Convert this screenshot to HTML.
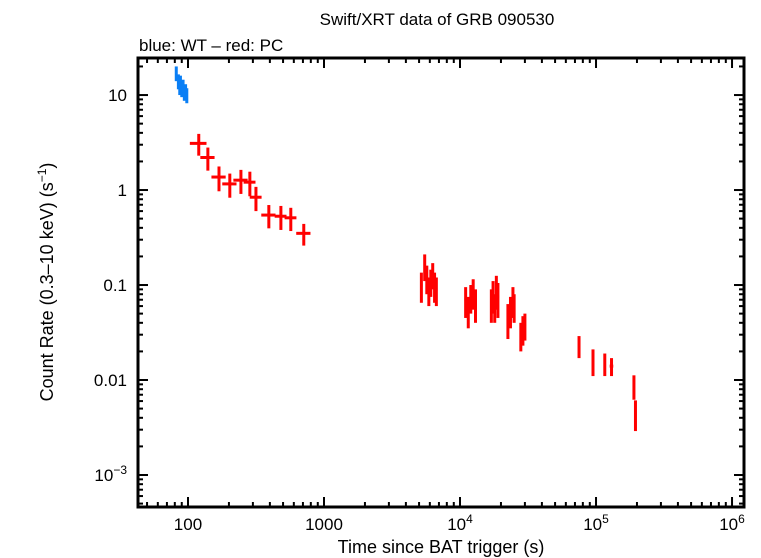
<!DOCTYPE html>
<html><head><meta charset="utf-8"><style>
body{margin:0;background:#fff;}
svg{display:block;font-family:"Liberation Sans",sans-serif;}
</style></head><body>
<svg id="c" width="761" height="558"></svg>
<script>
const wtT=[82,85,87,88,90,92,94,96,98];
const wtR=[17,14,12,13.5,11.5,12.5,10.5,11,10];
const wtE=[3,2.5,2,2.5,2,2,1.8,2,1.8];
const pcT=[120,140,169,203,245,285,316,393,482,570,710,
5200,5500,5700,5900,6100,6300,6500,6700,
11000,11500,12000,12500,13000,
17000,17500,18000,18500,19000,
22500,23500,24500,25000,
28000,29000,30000,
75000,95000,116000,130000,190000,195000];
const pcR=[3.1,2.2,1.37,1.16,1.27,1.21,0.84,0.545,0.53,0.51,0.35,
0.10,0.16,0.12,0.09,0.11,0.13,0.10,0.09,
0.07,0.055,0.075,0.085,0.065,
0.065,0.08,0.06,0.09,0.075,
0.045,0.055,0.07,0.06,
0.03,0.035,0.038,
0.023,0.016,0.015,0.014,0.0087,0.0045];
const pcE=[0.8,0.6,0.4,0.33,0.36,0.35,0.24,0.15,0.15,0.14,0.09,
0.035,0.05,0.04,0.03,0.035,0.04,0.035,0.03,
0.025,0.02,0.025,0.03,0.025,
0.025,0.03,0.02,0.035,0.03,
0.018,0.02,0.025,0.02,
0.01,0.012,0.012,
0.006,0.005,0.004,0.003,0.0025,0.0016];
const pcXF=[0.14,0.12,0.12,0.12,0.12,0.1,0.1,0.12,0.1,0.1,0.12,
0.02,0.02,0.02,0.02,0.02,0.02,0.02,0.02,
0.02,0.02,0.02,0.02,0.02,
0.02,0.02,0.02,0.02,0.02,
0.02,0.02,0.02,0.02,
0.02,0.02,0.02,
0.01,0.01,0.01,0.03,0.01,0.01];
const wtXF=[0.02,0.02,0.02,0.03,0.02,0.02,0.03,0.02,0.02];
const xTickLabels=["100","1000","10^4","10^5","10^6"];
const yTickLabels=["10","1","0.1","0.01","10^-3"];

const L=138,R=744,T=58,B=507;
const x0=Math.log10(42.9),x1=6.088,y0=-3.337,y1=1.39;
const X=v=>L+(Math.log10(v)-x0)/(x1-x0)*(R-L);
const Y=v=>B-(Math.log10(v)-y0)/(y1-y0)*(B-T);
const svg=document.getElementById('c');
const NS='http://www.w3.org/2000/svg';
function mk(tag,attrs,parent){const e=document.createElementNS(NS,tag);for(const k in attrs)e.setAttribute(k,attrs[k]);(parent||svg).appendChild(e);return e;}
function line(x1_,y1_,x2_,y2_,col,w,p){return mk('line',{x1:x1_,y1:y1_,x2:x2_,y2:y2_,stroke:col,'stroke-width':w},p);}
function label(txt,x,y,anchor,p){
  const t=mk('text',{x:x,y:y,'text-anchor':anchor,'font-size':17,fill:'#000'},p);
  const m=txt.match(/^10\^(.+)$/);
  if(m){t.textContent='10';const s=mk('tspan',{dy:-7,'font-size':12},t);s.textContent=m[1].replace('-','\u2212');}
  else t.textContent=txt;
  return t;
}
const axes=mk('g',{});


for(let d=1;d<=6;d++){for(let k=1;k<10;k++){const v=k*Math.pow(10,d);const px=X(v);if(px<L||px>R)continue;const len=k==1?10:5;
line(px,B,px,B-len,'#000',2,axes);line(px,T,px,T+len,'#000',2,axes);}}
for(let d=-4;d<=1;d++){for(let k=1;k<10;k++){const v=k*Math.pow(10,d);const py=Y(v);if(py<T||py>B)continue;const len=k==1?10:5;
line(L,py,L+len,py,'#000',2,axes);line(R,py,R-len,py,'#000',2,axes);}}
mk('rect',{x:L,y:T,width:R-L,height:B-T,fill:'none',stroke:'#000','stroke-width':3},axes);
const xl=mk('g',{});


xTickLabels.forEach((s,i)=>label(s,X(Math.pow(10,i+2)),530,'middle',xl));
const yl=mk('g',{});


yTickLabels.forEach((s,i)=>label(s,127,Y(Math.pow(10,1-i))+6,'end',yl));
function series(ts,rs,es,xf,col,w,name){
  const g=mk('g',{});
  
  
  ts.forEach((t,i)=>{
    const f=xf[i];
    const pt=mk('g',{},g);
    
    
    line(X(t*(1-f)),Y(rs[i]),X(t*(1+f)),Y(rs[i]),col,w,pt);
    line(X(t),Y(rs[i]+es[i]),X(t),Y(Math.max(rs[i]-es[i],1e-4)),col,w,pt);
  });
}
series(wtT,wtR,wtE,wtXF,'#0a7ff5',3,'wt-series');
series(pcT,pcR,pcE,pcXF,'#ff0000',3,'pc-series');
const tt=mk('text',{x:437,y:25,'text-anchor':'middle','font-size':17});tt.textContent='Swift/XRT data of GRB 090530';

const st=mk('text',{x:139,y:51,'font-size':17});st.textContent='blue: WT \u2013 red: PC';

const xt=mk('text',{x:441,y:553,'text-anchor':'middle','font-size':18});xt.textContent='Time since BAT trigger (s)';

const yt=mk('text',{x:0,y:0,'text-anchor':'middle','font-size':18,transform:'translate(53,282) rotate(-90)'});
yt.textContent='Count Rate (0.3\u201310 keV) (s';
const ys=mk('tspan',{dy:-7,'font-size':12},yt);ys.textContent='\u22121';
const ye=mk('tspan',{dy:7},yt);ye.textContent=')';

</script>
</body></html>
